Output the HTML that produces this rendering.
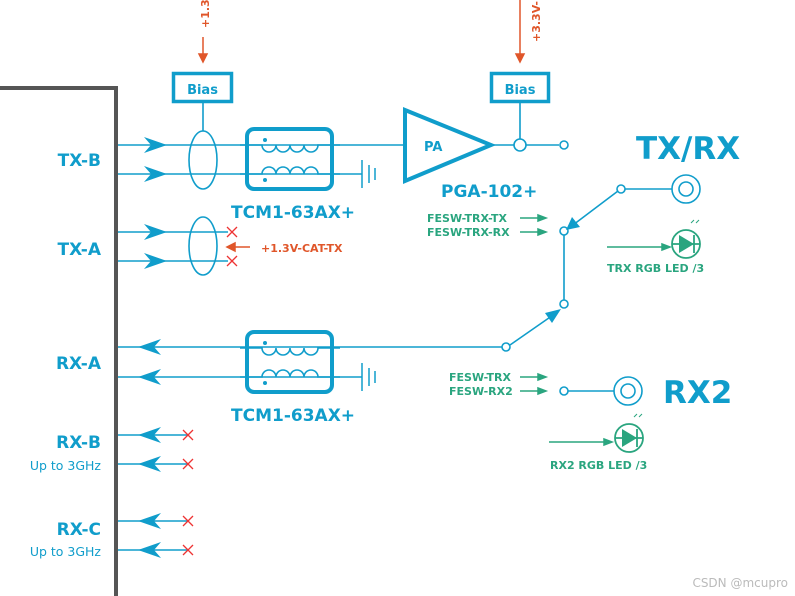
<!DOCTYPE html>
<html><head><meta charset="utf-8"><style>
html,body{margin:0;padding:0;background:#fff;}
svg{display:block;}
text{font-family:"DejaVu Sans","Liberation Sans",sans-serif;font-weight:bold;}
</style></head><body>
<svg width="795" height="596" viewBox="0 0 795 596" xmlns="http://www.w3.org/2000/svg">
<defs>
<g id="ar"><polygon points="0,0 -23,-8 -16,0 -23,8" fill="#109dcb"/></g>
<g id="al"><polygon points="0,0 23,-8 16,0 23,8" fill="#109dcb"/></g>
<g id="xx"><path d="M-5,-5 L5,5 M-5,5 L5,-5" stroke="#ee3333" stroke-width="1.3"/></g>
<g id="gnd"><path d="M0,-14 V14 M7,-9 V9 M13,-6 V6" stroke="#109dcb" stroke-width="1.5"/></g>
<g id="tcm">
<rect x="247" y="0" width="85" height="60" rx="7" fill="none" stroke="#109dcb" stroke-width="4"/>
<path d="M240,16 H262 a7,7 0 0 0 14,0 a7,7 0 0 0 14,0 a7,7 0 0 0 14,0 a7,7 0 0 0 14,0 H340" fill="none" stroke="#109dcb" stroke-width="1.6"/>
<path d="M240,45 H262 a7,7 0 0 1 14,0 a7,7 0 0 1 14,0 a7,7 0 0 1 14,0 a7,7 0 0 1 14,0 H340" fill="none" stroke="#109dcb" stroke-width="1.6"/>
<circle cx="265" cy="11" r="2" fill="#109dcb"/><circle cx="265" cy="51" r="2" fill="#109dcb"/>
</g>
<g id="led"><circle cx="0" cy="0" r="14" fill="none" stroke="#2aa57f" stroke-width="1.8"/>
<path d="M-14,0 H14 M8,-9 V9" stroke="#2aa57f" stroke-width="1.8"/>
<polygon points="-7,-9 8,0 -7,9" fill="#2aa57f"/>
<path d="M5,-21 l3,-3 M10,-21 l3,-3" stroke="#2aa57f" stroke-width="1"/></g>
</defs>

<path d="M0,88 H116 V596" fill="none" stroke="#555" stroke-width="4"/>

<g fill="#109dcb" font-size="17" text-anchor="end">
<text x="101" y="166">TX-B</text>
<text x="101" y="255">TX-A</text>
<text x="101" y="369">RX-A</text>
<text x="101" y="448">RX-B</text>
<text x="101" y="535">RX-C</text>
</g>
<g fill="#109dcb" font-size="12.5" text-anchor="end">
<text x="101" y="470" style="font-weight:normal">Up to 3GHz</text>
<text x="101" y="556" style="font-weight:normal">Up to 3GHz</text>
</g>

<g stroke="#109dcb" stroke-width="1.6" fill="none">
<path d="M118,145 H405 M118,174 H362"/>
<ellipse cx="203" cy="160" rx="14" ry="29"/>
<path d="M203,103 V131"/>
<path d="M118,232 H228 M118,261 H228"/>
<ellipse cx="203" cy="246" rx="14" ry="29"/>
<path d="M118,347 H502 M118,377 H362"/>
<path d="M118,435 H188 M118,464 H188 M118,521 H188 M118,550 H188"/>
<path d="M493,145 H514 M526,145 H559 M520,103 V139"/>
<path d="M625,189 H672 M618,191 L569,228 M564,235 V300 M510,345 L556,313 M568,391 H614"/>
</g>
<use href="#ar" x="167" y="145"/><use href="#ar" x="167" y="174"/>
<use href="#ar" x="167" y="232"/><use href="#ar" x="167" y="261"/>
<use href="#al" x="138" y="347"/><use href="#al" x="138" y="377"/>
<use href="#al" x="138" y="435"/><use href="#al" x="138" y="464"/>
<use href="#al" x="138" y="521"/><use href="#al" x="138" y="550"/>
<use href="#xx" x="232" y="232"/><use href="#xx" x="232" y="261"/>
<use href="#xx" x="188" y="435"/><use href="#xx" x="188" y="464"/>
<use href="#xx" x="188" y="521"/><use href="#xx" x="188" y="550"/>
<use href="#gnd" x="362" y="174"/><use href="#gnd" x="362" y="377"/>

<g transform="translate(0,129)"><use href="#tcm"/></g>
<g transform="translate(0,332)"><use href="#tcm"/></g>
<text x="231" y="218" fill="#109dcb" font-size="17">TCM1-63AX+</text>
<text x="231" y="421" fill="#109dcb" font-size="17">TCM1-63AX+</text>

<rect x="173.5" y="73.5" width="58" height="28" fill="none" stroke="#109dcb" stroke-width="3.5"/>
<text x="202.5" y="94" fill="#109dcb" font-size="13" text-anchor="middle">Bias</text>
<rect x="491.5" y="73.5" width="57" height="28" fill="none" stroke="#109dcb" stroke-width="3.5"/>
<text x="520" y="94" fill="#109dcb" font-size="13" text-anchor="middle">Bias</text>

<g stroke="#e0562a" stroke-width="1.5" fill="#e0562a">
<path d="M203,37 V55"/><polygon points="199,54 207,54 203,62"/>
<path d="M520,0 V55"/><polygon points="516,54 524,54 520,62"/>
<path d="M250,247 H234"/><polygon points="235,243 235,251 227,247"/>
</g>
<text transform="translate(209,28) rotate(-90)" fill="#e0562a" font-size="11">+1.3V</text>
<text transform="translate(540,42) rotate(-90)" fill="#e0562a" font-size="11">+3.3V-PA</text>
<text x="261" y="252" fill="#e0562a" font-size="11">+1.3V-CAT-TX</text>

<polygon points="405,110 405,181 491,145" fill="none" stroke="#109dcb" stroke-width="4"/>
<text x="424" y="151" fill="#109dcb" font-size="13">PA</text>
<text x="441" y="197" fill="#109dcb" font-size="17">PGA-102+</text>

<g fill="#fff" stroke="#109dcb" stroke-width="1.6">
<circle cx="520" cy="145" r="6"/><circle cx="564" cy="145" r="4"/>
<circle cx="621" cy="189" r="4"/><circle cx="564" cy="231" r="4"/>
<circle cx="564" cy="304" r="4"/><circle cx="506" cy="347" r="4"/>
<circle cx="564" cy="391" r="4"/>
<circle cx="686" cy="189" r="14"/><circle cx="686" cy="189" r="7"/>
<circle cx="628" cy="391" r="14"/><circle cx="628" cy="391" r="7"/>
</g>
<polygon points="566,230 572,217 580,227" fill="#109dcb"/>
<polygon points="561,309 545,313 552,323" fill="#109dcb"/>

<text x="636" y="159" fill="#109dcb" font-size="31">TX/RX</text>
<text x="663" y="403" fill="#109dcb" font-size="31">RX2</text>

<g fill="#2aa57f" font-size="11">
<text x="427" y="222">FESW-TRX-TX</text>
<text x="427" y="236">FESW-TRX-RX</text>
<text x="449" y="381">FESW-TRX</text>
<text x="449" y="395">FESW-RX2</text>
<text x="607" y="272">TRX RGB LED /3</text>
<text x="550" y="469">RX2 RGB LED /3</text>
</g>
<g stroke="#2aa57f" stroke-width="1.5" fill="#2aa57f">
<path d="M520,218 H540 M520,232 H540 M520,377 H540 M520,391 H540 M607,247 H664 M549,442 H606"/>
<polygon points="538,215 546,218 538,221"/><polygon points="538,229 546,232 538,235"/>
<polygon points="538,374 546,377 538,380"/><polygon points="538,388 546,391 538,394"/>
<polygon points="662,244 670,247 662,250"/><polygon points="604,439 612,442 604,445"/>
</g>
<use href="#led" x="686" y="244"/>
<use href="#led" x="629" y="438"/>

<text x="788" y="587" fill="#bbb" font-size="12" text-anchor="end" style="font-weight:normal">CSDN @mcupro</text>
</svg>
</body></html>
